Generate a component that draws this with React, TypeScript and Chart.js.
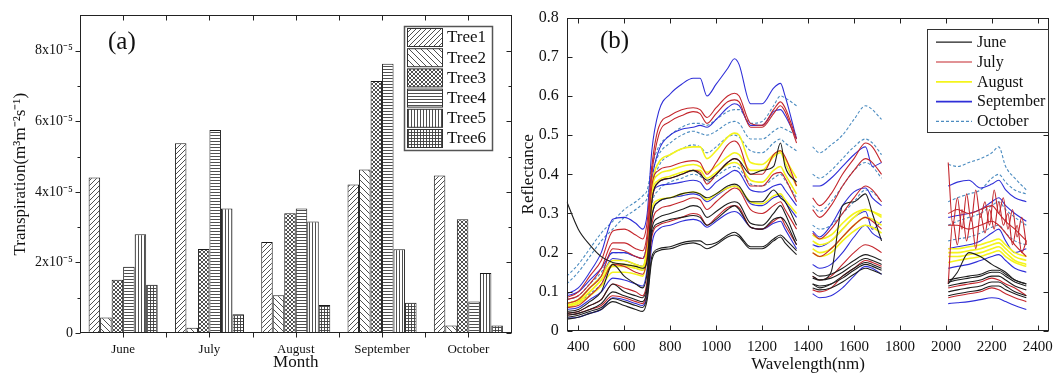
import React, { useEffect, useRef } from "react";
import { Chart, registerables } from "chart.js";
Chart.register(...registerables);

const FONT = '"Liberation Serif", "Times New Roman", serif';

// ---------- Panel (a): transpiration (units of 1e-5 m3 m-2 s-1) ----------
const MONTHS = ["June", "July", "August", "September", "October"];
const TREES = ["Tree1", "Tree2", "Tree3", "Tree4", "Tree5", "Tree6"];
const TREE1 = [4.41, 5.38, 2.58, 4.21, 4.46];
const TREE2 = [0.44, 0.15, 1.07, 4.63, 0.21];
const TREE3 = [1.51, 2.38, 3.39, 7.14, 3.22];
const TREE4 = [1.88, 5.75, 3.53, 7.63, 0.89];
const TREE5 = [2.8, 3.53, 3.16, 2.37, 1.7];
const TREE6 = [1.37, 0.53, 0.79, 0.86, 0.21];
const TREE_VALUES = [TREE1, TREE2, TREE3, TREE4, TREE5, TREE6];
const TREE_PATTERNS = ["diagF", "diagB", "cross", "horiz", "vert", "grid"];
const Y_A_MAX = 9;

// ---------- Panel (b): reflectance spectra ----------
const WL_VNIR = [350, 400, 450, 500, 550, 600, 650, 680, 700, 720, 750, 800, 850, 900, 930, 960, 1000, 1050, 1080, 1100, 1150, 1200, 1250, 1280, 1300, 1350];
const WL_SWIR1 = [1420, 1450, 1500, 1550, 1600, 1650, 1680, 1720];
const WL_SWIR2 = [2010, 2050, 2100, 2150, 2200, 2230, 2260, 2300, 2350];
const WL_SWIR2_FINE = [2010, 2030, 2050, 2070, 2090, 2110, 2130, 2150, 2170, 2190, 2210, 2230, 2250, 2270, 2290, 2310, 2330, 2350];
const X_TICKS_B = [400, 600, 800, 1000, 1200, 1400, 1600, 1800, 2000, 2200, 2400];

const SPECTRA_MONTHS = ["June", "July", "August", "September", "October"];
const MONTH_COLORS = ["#1e1e1e", "#c4262c", "#f4f41c", "#2f2fd8", "#4c8cc0"];

const JUN_1 = {
  vnir: [0.33, 0.26, 0.22, 0.19, 0.175, 0.17, 0.165, 0.16, 0.18, 0.33, 0.38, 0.39, 0.4, 0.41, 0.4, 0.385, 0.4, 0.43, 0.44, 0.435, 0.4, 0.41, 0.42, 0.48, 0.42, 0.38],
  swir1: [0.14, 0.13, 0.15, 0.32, 0.33, 0.35, 0.3, 0.23],
  swir2: [0.12, 0.15, 0.2, 0.19, 0.17, 0.16, 0.15, 0.13, 0.12],
};
const JUN_2 = {
  vnir: [0.05, 0.055, 0.075, 0.1, 0.17, 0.14, 0.12, 0.11, 0.15, 0.29, 0.33, 0.34, 0.35, 0.355, 0.35, 0.34, 0.35, 0.37, 0.375, 0.37, 0.33, 0.33, 0.36, 0.34, 0.33, 0.27],
  swir1: [0.15, 0.14, 0.145, 0.16, 0.18, 0.195, 0.19, 0.18],
  swir2: [0.13, 0.135, 0.14, 0.145, 0.155, 0.155, 0.145, 0.13, 0.12],
};
const JUN_3 = {
  vnir: [0.045, 0.05, 0.065, 0.08, 0.12, 0.1, 0.09, 0.085, 0.12, 0.26, 0.29, 0.3, 0.31, 0.32, 0.315, 0.29, 0.305, 0.325, 0.33, 0.325, 0.275, 0.27, 0.3, 0.32, 0.3, 0.23],
  swir1: [0.135, 0.13, 0.135, 0.15, 0.17, 0.185, 0.18, 0.17],
  swir2: [0.125, 0.13, 0.135, 0.14, 0.15, 0.15, 0.14, 0.125, 0.115],
};
const JUN_4 = {
  vnir: [0.04, 0.045, 0.055, 0.07, 0.1, 0.09, 0.08, 0.075, 0.11, 0.25, 0.275, 0.285, 0.29, 0.295, 0.29, 0.27, 0.285, 0.31, 0.32, 0.31, 0.265, 0.26, 0.285, 0.29, 0.28, 0.22],
  swir1: [0.12, 0.115, 0.12, 0.135, 0.155, 0.17, 0.165, 0.155],
  swir2: [0.1, 0.105, 0.11, 0.115, 0.125, 0.125, 0.115, 0.1, 0.09],
};
const JUN_5 = {
  vnir: [0.035, 0.04, 0.05, 0.06, 0.083, 0.075, 0.065, 0.06, 0.09, 0.19, 0.21, 0.215, 0.225, 0.23, 0.23, 0.22, 0.225, 0.245, 0.252, 0.245, 0.215, 0.215, 0.235, 0.245, 0.235, 0.205],
  swir1: [0.11, 0.105, 0.11, 0.125, 0.145, 0.16, 0.155, 0.145],
  swir2: [0.09, 0.095, 0.1, 0.105, 0.115, 0.115, 0.105, 0.095, 0.085],
};
const JUN_6 = {
  vnir: [0.03, 0.035, 0.045, 0.055, 0.075, 0.065, 0.055, 0.05, 0.08, 0.18, 0.205, 0.21, 0.22, 0.225, 0.22, 0.21, 0.22, 0.24, 0.245, 0.24, 0.21, 0.21, 0.23, 0.24, 0.225, 0.195],
  swir1: [0.12, 0.11, 0.12, 0.14, 0.16, 0.175, 0.17, 0.16],
  swir2: [0.115, 0.12, 0.125, 0.13, 0.14, 0.14, 0.13, 0.115, 0.105],
};

const JUL_1 = {
  vnir: [0.085, 0.1, 0.14, 0.18, 0.255, 0.26, 0.245, 0.235, 0.28, 0.42, 0.52, 0.55, 0.565, 0.57, 0.565, 0.545, 0.57, 0.6, 0.607, 0.6, 0.53, 0.525, 0.565, 0.585, 0.57, 0.49],
  swir1: [0.34, 0.32, 0.35, 0.4, 0.44, 0.48, 0.47, 0.43],
  swir2: [0.43, 0.27, 0.34, 0.26, 0.35, 0.28, 0.36, 0.29, 0.33, 0.27, 0.36, 0.3, 0.34, 0.26, 0.31, 0.24, 0.29, 0.22],
};
const JUL_2 = {
  vnir: [0.08, 0.09, 0.12, 0.16, 0.225, 0.225, 0.21, 0.205, 0.25, 0.4, 0.5, 0.535, 0.55, 0.56, 0.555, 0.53, 0.555, 0.585, 0.59, 0.585, 0.52, 0.52, 0.555, 0.575, 0.56, 0.48],
  swir1: [0.31, 0.29, 0.32, 0.37, 0.41, 0.44, 0.43, 0.4],
  swir2: [0.12, 0.28, 0.22, 0.31, 0.23, 0.29, 0.21, 0.3, 0.25, 0.31, 0.26, 0.33, 0.27, 0.3, 0.22, 0.27, 0.2, 0.23],
};
const JUL_3 = {
  vnir: [0.07, 0.08, 0.11, 0.14, 0.21, 0.205, 0.19, 0.185, 0.23, 0.37, 0.41, 0.42, 0.43, 0.435, 0.43, 0.4, 0.43, 0.475, 0.485, 0.475, 0.4, 0.4, 0.45, 0.46, 0.445, 0.37],
  swir1: [0.25, 0.235, 0.26, 0.3, 0.34, 0.37, 0.36, 0.33],
  swir2: [0.3, 0.31, 0.3, 0.31, 0.32, 0.3, 0.28, 0.26, 0.23],
};
const JUL_4 = {
  vnir: [0.06, 0.065, 0.09, 0.12, 0.17, 0.165, 0.15, 0.145, 0.19, 0.33, 0.38, 0.39, 0.4, 0.41, 0.405, 0.375, 0.4, 0.43, 0.44, 0.435, 0.37, 0.37, 0.4, 0.405, 0.39, 0.33],
  swir1: [0.2, 0.19, 0.21, 0.24, 0.27, 0.29, 0.28, 0.26],
  swir2: [0.27, 0.27, 0.26, 0.27, 0.28, 0.27, 0.25, 0.22, 0.19],
};
const JUL_5 = {
  vnir: [0.045, 0.05, 0.065, 0.08, 0.12, 0.11, 0.1, 0.09, 0.13, 0.27, 0.31, 0.32, 0.33, 0.34, 0.335, 0.31, 0.33, 0.355, 0.365, 0.36, 0.31, 0.3, 0.32, 0.33, 0.31, 0.26],
  swir1: [0.14, 0.13, 0.14, 0.17, 0.2, 0.22, 0.215, 0.2],
  swir2: [0.11, 0.115, 0.12, 0.125, 0.135, 0.13, 0.12, 0.11, 0.09],
};
const JUL_6 = {
  vnir: [0.04, 0.045, 0.055, 0.065, 0.09, 0.085, 0.075, 0.07, 0.11, 0.24, 0.27, 0.28, 0.29, 0.3, 0.295, 0.27, 0.29, 0.315, 0.32, 0.315, 0.265, 0.26, 0.28, 0.29, 0.27, 0.22],
  swir1: [0.105, 0.1, 0.11, 0.14, 0.16, 0.18, 0.175, 0.165],
  swir2: [0.085, 0.09, 0.095, 0.1, 0.11, 0.105, 0.095, 0.085, 0.075],
};

const AUG_1 = {
  vnir: [0.07, 0.08, 0.11, 0.14, 0.18, 0.18, 0.17, 0.165, 0.22, 0.37, 0.43, 0.45, 0.465, 0.47, 0.47, 0.44, 0.46, 0.495, 0.505, 0.5, 0.43, 0.425, 0.45, 0.46, 0.44, 0.39],
  swir1: [0.23, 0.22, 0.23, 0.26, 0.29, 0.31, 0.305, 0.29],
  swir2: [0.2, 0.2, 0.205, 0.21, 0.22, 0.225, 0.21, 0.19, 0.18],
};
const AUG_2 = {
  vnir: [0.065, 0.075, 0.1, 0.13, 0.17, 0.17, 0.165, 0.16, 0.21, 0.35, 0.385, 0.395, 0.405, 0.41, 0.41, 0.39, 0.405, 0.425, 0.43, 0.425, 0.385, 0.38, 0.41, 0.42, 0.4, 0.35],
  swir1: [0.21, 0.2, 0.21, 0.24, 0.27, 0.29, 0.285, 0.27],
  swir2: [0.19, 0.19, 0.195, 0.2, 0.21, 0.215, 0.2, 0.18, 0.17],
};
const AUG_3 = {
  vnir: [0.06, 0.07, 0.09, 0.115, 0.15, 0.15, 0.145, 0.14, 0.19, 0.31, 0.335, 0.34, 0.35, 0.355, 0.35, 0.335, 0.35, 0.365, 0.37, 0.365, 0.33, 0.325, 0.345, 0.35, 0.335, 0.3],
  swir1: [0.2, 0.19, 0.2, 0.23, 0.255, 0.27, 0.265, 0.25],
  swir2: [0.175, 0.18, 0.185, 0.19, 0.2, 0.205, 0.19, 0.175, 0.165],
};
const AUG_4 = {
  vnir: [0.065, 0.075, 0.1, 0.13, 0.165, 0.165, 0.16, 0.155, 0.2, 0.36, 0.4, 0.41, 0.42, 0.425, 0.42, 0.405, 0.42, 0.445, 0.455, 0.45, 0.41, 0.41, 0.445, 0.455, 0.43, 0.37],
  swir1: [0.245, 0.235, 0.245, 0.275, 0.3, 0.31, 0.305, 0.295],
  swir2: [0.21, 0.21, 0.215, 0.22, 0.23, 0.235, 0.22, 0.2, 0.19],
};

const SEP_1 = {
  vnir: [0.095, 0.11, 0.15, 0.2, 0.285, 0.29, 0.275, 0.26, 0.3, 0.46, 0.56, 0.605, 0.63, 0.645, 0.645, 0.6, 0.63, 0.67, 0.695, 0.68, 0.58, 0.58, 0.62, 0.632, 0.6, 0.49],
  swir1: [0.37, 0.37, 0.39, 0.42, 0.45, 0.47, 0.42, 0.43],
  swir2: [0.37, 0.38, 0.385, 0.365, 0.375, 0.385, 0.36, 0.34, 0.33],
};
const SEP_2 = {
  vnir: [0.09, 0.1, 0.13, 0.16, 0.2, 0.2, 0.19, 0.185, 0.23, 0.38, 0.46, 0.5, 0.515, 0.52, 0.525, 0.52, 0.54, 0.57, 0.58, 0.575, 0.525, 0.525, 0.56, 0.565, 0.55, 0.49],
  swir1: [0.255, 0.24, 0.27, 0.32, 0.355, 0.365, 0.34, 0.32],
  swir2: [0.29, 0.295, 0.3, 0.31, 0.33, 0.34, 0.32, 0.3, 0.28],
};
const SEP_3 = {
  vnir: [0.07, 0.08, 0.11, 0.14, 0.185, 0.18, 0.17, 0.165, 0.21, 0.34, 0.37, 0.375, 0.38, 0.385, 0.38, 0.36, 0.38, 0.4, 0.41, 0.405, 0.36, 0.355, 0.37, 0.375, 0.36, 0.32],
  swir1: [0.22, 0.215, 0.23, 0.26, 0.29, 0.305, 0.26, 0.28],
  swir2: [0.21, 0.215, 0.22, 0.23, 0.25, 0.26, 0.23, 0.2, 0.21],
};
const SEP_4 = {
  vnir: [0.055, 0.06, 0.08, 0.1, 0.135, 0.13, 0.12, 0.115, 0.16, 0.29, 0.33, 0.34, 0.345, 0.35, 0.345, 0.33, 0.345, 0.365, 0.37, 0.365, 0.325, 0.32, 0.34, 0.345, 0.33, 0.29],
  swir1: [0.17, 0.16, 0.17, 0.2, 0.24, 0.27, 0.25, 0.235],
  swir2: [0.16, 0.165, 0.17, 0.18, 0.19, 0.195, 0.18, 0.16, 0.15],
};
const SEP_5 = {
  vnir: [0.033, 0.035, 0.045, 0.055, 0.085, 0.08, 0.07, 0.065, 0.1, 0.22, 0.26, 0.27, 0.28, 0.285, 0.28, 0.265, 0.28, 0.3, 0.305, 0.3, 0.265, 0.26, 0.275, 0.28, 0.26, 0.21],
  swir1: [0.095, 0.085, 0.09, 0.11, 0.14, 0.165, 0.16, 0.145],
  swir2: [0.07, 0.072, 0.075, 0.08, 0.085, 0.083, 0.075, 0.065, 0.055],
};

const OCT_1 = {
  vnir: [0.14, 0.17, 0.21, 0.25, 0.28, 0.31, 0.33, 0.345, 0.36, 0.42, 0.47, 0.5, 0.52, 0.53, 0.53, 0.525, 0.54, 0.56, 0.565, 0.565, 0.53, 0.535, 0.575, 0.6, 0.595, 0.575],
  swir1: [0.47, 0.455, 0.475, 0.5, 0.54, 0.575, 0.565, 0.54],
  swir2: [0.425, 0.42, 0.43, 0.44, 0.455, 0.47, 0.42, 0.39, 0.36],
};
const OCT_2 = {
  vnir: [0.12, 0.15, 0.19, 0.23, 0.26, 0.29, 0.31, 0.325, 0.34, 0.4, 0.45, 0.48, 0.5, 0.51, 0.505, 0.5, 0.51, 0.53, 0.535, 0.53, 0.49, 0.49, 0.51, 0.52, 0.515, 0.5],
  swir1: [0.4, 0.39, 0.41, 0.44, 0.47, 0.49, 0.48, 0.45],
  swir2: [0.33, 0.34, 0.35, 0.36, 0.39, 0.4, 0.38, 0.36, 0.35],
};
const OCT_3 = {
  vnir: [0.08, 0.09, 0.12, 0.15, 0.2, 0.2, 0.19, 0.185, 0.23, 0.36, 0.42, 0.45, 0.465, 0.475, 0.47, 0.455, 0.47, 0.495, 0.5, 0.495, 0.46, 0.455, 0.48, 0.49, 0.48, 0.46],
  swir1: [0.32, 0.305, 0.33, 0.37, 0.41, 0.43, 0.42, 0.39],
  swir2: [0.27, 0.28, 0.29, 0.3, 0.32, 0.33, 0.31, 0.29, 0.27],
};
const OCT_4 = {
  vnir: [0.06, 0.07, 0.095, 0.12, 0.17, 0.17, 0.16, 0.155, 0.2, 0.32, 0.36, 0.38, 0.39, 0.4, 0.395, 0.38, 0.395, 0.415, 0.42, 0.415, 0.375, 0.37, 0.39, 0.4, 0.385, 0.34],
  swir1: [0.27, 0.26, 0.27, 0.3, 0.33, 0.36, 0.355, 0.33],
  swir2: [0.23, 0.235, 0.24, 0.25, 0.265, 0.27, 0.25, 0.23, 0.22],
};

const SPECTRA_BY_MONTH = [
  [JUN_1, JUN_2, JUN_3, JUN_4, JUN_5, JUN_6],
  [JUL_1, JUL_2, JUL_3, JUL_4, JUL_5, JUL_6],
  [AUG_1, AUG_2, AUG_3, AUG_4],
  [SEP_1, SEP_2, SEP_3, SEP_4, SEP_5],
  [OCT_1, OCT_2, OCT_3, OCT_4],
];

type Spectrum = { vnir: number[]; swir1: number[]; swir2: number[] };

function toPoints(c: Spectrum) {
  const pts: { x: number; y: number | null }[] = [];
  WL_VNIR.forEach((w, i) => pts.push({ x: w, y: c.vnir[i] }));
  pts.push({ x: 1385, y: null });
  WL_SWIR1.forEach((w, i) => pts.push({ x: w, y: c.swir1[i] }));
  pts.push({ x: 1865, y: null });
  const wl2 = c.swir2.length === WL_SWIR2_FINE.length ? WL_SWIR2_FINE : WL_SWIR2;
  wl2.forEach((w, i) => pts.push({ x: w, y: c.swir2[i] }));
  return pts;
}

function makePattern(kind: string): CanvasPattern {
  const sizes: Record<string, number> = { diagF: 5, diagB: 6, cross: 4, horiz: 3, vert: 3, grid: 3 };
  const s = sizes[kind];
  const c = document.createElement("canvas");
  c.width = s;
  c.height = s;
  const g = c.getContext("2d")!;
  g.fillStyle = "#fff";
  g.fillRect(0, 0, s, s);
  g.strokeStyle = "#3c3c3c";
  g.lineWidth = 0.9;
  g.beginPath();
  if (kind === "diagF" || kind === "cross") {
    g.moveTo(-1, s + 1); g.lineTo(s + 1, -1);
    g.moveTo(-1, 1); g.lineTo(1, -1);
    g.moveTo(s - 1, s + 1); g.lineTo(s + 1, s - 1);
  }
  if (kind === "diagB" || kind === "cross") {
    g.moveTo(-1, -1); g.lineTo(s + 1, s + 1);
    g.moveTo(s - 1, -1); g.lineTo(s + 1, 1);
    g.moveTo(-1, s - 1); g.lineTo(1, s + 1);
  }
  if (kind === "horiz" || kind === "grid") {
    g.moveTo(0, 0.5); g.lineTo(s, 0.5);
  }
  if (kind === "vert" || kind === "grid") {
    g.moveTo(0.5, 0); g.lineTo(0.5, s);
  }
  g.stroke();
  return g.createPattern(c, "repeat")!;
}

const frameA = {
  id: "frameA",
  afterDraw(chart: any) {
    const { ctx, chartArea: a, scales } = chart;
    const xs = scales.x, ys = scales.y;
    ctx.save();
    ctx.strokeStyle = "#222";
    ctx.lineWidth = 1;
    const L = Math.round(a.left) + 0.5, R = Math.round(a.right) - 0.5;
    const T = Math.round(a.top) + 0.5, B = Math.round(a.bottom) - 0.5;
    ctx.strokeRect(L, T, R - L, B - T);
    ctx.beginPath();
    for (let v = 0; v < Y_A_MAX; v++) {
      const py = Math.round(ys.getPixelForValue(v)) + 0.5;
      const len = v % 2 === 0 ? 5 : 3;
      ctx.moveTo(L, py); ctx.lineTo(L - len, py);
      ctx.moveTo(R, py); ctx.lineTo(R - len, py);
    }
    const half = (xs.getPixelForValue(1) - xs.getPixelForValue(0)) / 2;
    for (let i = 0; i < MONTHS.length; i++) {
      const cx = xs.getPixelForValue(i);
      const list = i < MONTHS.length - 1 ? [cx, cx + half] : [cx];
      for (const p of list) {
        const px = Math.round(p) + 0.5;
        ctx.moveTo(px, B); ctx.lineTo(px, B + 5);
        ctx.moveTo(px, T); ctx.lineTo(px, T + 5);
      }
    }
    ctx.stroke();

    // panel label
    ctx.fillStyle = "#111";
    ctx.font = `25px ${FONT}`;
    ctx.textBaseline = "alphabetic";
    ctx.textAlign = "left";
    ctx.fillText("(a)", 108, 49);

    // legend
    const bx = 404.5, by = 26.5, bw = 88, bh = 124;
    ctx.fillStyle = "#fff";
    ctx.fillRect(bx, by, bw, bh);
    ctx.strokeStyle = "#555";
    ctx.lineWidth = 1.5;
    ctx.strokeRect(bx, by, bw, bh);
    ctx.lineWidth = 1;
    ctx.strokeStyle = "#333";
    chart.data.datasets.forEach((ds: any, i: number) => {
      const ry = 28.5 + i * 20.2;
      ctx.fillStyle = ds.backgroundColor;
      ctx.fillRect(407.5, ry, 35, 18);
      ctx.strokeRect(407.5, ry, 35, 18);
      ctx.fillStyle = "#111";
      ctx.font = `17px ${FONT}`;
      ctx.textBaseline = "middle";
      ctx.fillText(ds.label, 447, ry + 9.5);
    });
    ctx.restore();
  },
};

const frameB = {
  id: "frameB",
  afterDraw(chart: any) {
    const { ctx, chartArea: a, scales } = chart;
    const xs = scales.x, ys = scales.y;
    ctx.save();
    ctx.strokeStyle = "#222";
    ctx.lineWidth = 1;
    const L = Math.round(a.left) + 0.5, R = Math.round(a.right) - 0.5;
    const T = Math.round(a.top) + 0.5, B = Math.round(a.bottom) - 0.5;
    ctx.strokeRect(L, T, R - L, B - T);
    ctx.beginPath();
    ys.ticks.forEach((t: any) => {
      const py = Math.round(ys.getPixelForValue(t.value)) + 0.5;
      ctx.moveTo(L, py); ctx.lineTo(L + 5, py);
      ctx.moveTo(R, py); ctx.lineTo(R - 5, py);
    });
    xs.ticks.forEach((t: any) => {
      const px = Math.round(xs.getPixelForValue(t.value)) + 0.5;
      ctx.moveTo(px, B); ctx.lineTo(px, B - 5);
      ctx.moveTo(px, T); ctx.lineTo(px, T + 5);
    });
    ctx.stroke();

    ctx.fillStyle = "#111";
    ctx.font = `25px ${FONT}`;
    ctx.textAlign = "left";
    ctx.textBaseline = "alphabetic";
    ctx.fillText("(b)", 85, 48);

    // legend
    const bx = 412.5, by = 29.5, bw = 121, bh = 103;
    ctx.fillStyle = "#fff";
    ctx.fillRect(bx, by, bw, bh);
    ctx.strokeStyle = "#333";
    ctx.lineWidth = 1;
    ctx.strokeRect(bx, by, bw, bh);
    SPECTRA_MONTHS.forEach((m, i) => {
      const cy = 41.7 + i * 19.8;
      ctx.beginPath();
      ctx.strokeStyle = MONTH_COLORS[i];
      ctx.lineWidth = i === 2 || i === 3 ? 1.8 : 1.2;
      ctx.setLineDash(i === 4 ? [3, 2] : []);
      ctx.moveTo(421, cy + 0.5);
      ctx.lineTo(457, cy + 0.5);
      ctx.stroke();
      ctx.setLineDash([]);
      ctx.fillStyle = "#111";
      ctx.font = `16px ${FONT}`;
      ctx.textBaseline = "middle";
      ctx.fillText(m, 462, cy + 1);
    });
    ctx.restore();
  },
};

function configA(): any {
  const datasets = TREES.map((t, i) => ({
    label: t,
    data: TREE_VALUES[i],
    backgroundColor: makePattern(TREE_PATTERNS[i]),
    borderColor: "#1a1a1a",
    borderWidth: 1,
    borderSkipped: false,
    categoryPercentage: 0.8,
    barPercentage: 1,
  }));
  return {
    type: "bar",
    data: { labels: MONTHS, datasets },
    plugins: [frameA],
    options: {
      responsive: false,
      animation: false,
      devicePixelRatio: 1,
      layout: { padding: { top: 13, right: 3.5, left: 0, bottom: 0 } },
      plugins: { legend: { display: false }, tooltip: { enabled: false } },
      scales: {
        x: {
          type: "category",
          offset: true,
          grid: { display: false, drawTicks: false },
          border: { display: false },
          ticks: { font: { family: FONT, size: 13 }, color: "#111", padding: 9, maxRotation: 0, autoSkip: false },
          title: { display: true, text: "Month", font: { family: FONT, size: 17, lineHeight: 1.2 }, color: "#111", padding: 0 },
          afterFit: (s: any) => { s.height = 40; },
        },
        y: {
          min: 0,
          max: Y_A_MAX,
          grid: { display: false, drawTicks: false },
          border: { display: false },
          ticks: {
            stepSize: 1,
            autoSkip: false,
            font: { family: FONT, size: 14 },
            color: "#111",
            padding: 7,
            callback: (v: any) => {
              const n = Math.round(Number(v));
              if (n === 0) return "0";
              return n % 2 === 0 && n < Y_A_MAX ? `${n}x10⁻⁵` : "";
            },
          },
          title: { display: true, text: "Transpiration(m³m⁻²s⁻¹)", font: { family: FONT, size: 17, lineHeight: 1.2 }, color: "#111", padding: { top: 10, bottom: 0 } },
          afterFit: (s: any) => { s.width = 80; },
        },
      },
    },
  };
}

function configB(): any {
  const datasets: any[] = [];
  SPECTRA_BY_MONTH.forEach((curves, m) => {
    curves.forEach((c, k) => {
      datasets.push({
        label: `${SPECTRA_MONTHS[m]} ${k + 1}`,
        data: toPoints(c),
        borderColor: MONTH_COLORS[m],
        borderWidth: m === 2 ? 1.6 : 1.1,
        borderDash: m === 4 ? [3, 2] : [],
        pointRadius: 0,
        fill: false,
        spanGaps: false,
        cubicInterpolationMode: "monotone",
      });
    });
  });
  return {
    type: "line",
    data: { datasets },
    plugins: [frameB],
    options: {
      responsive: false,
      animation: false,
      devicePixelRatio: 1,
      layout: { padding: { top: 13.3, right: 8, left: 0, bottom: 0 } },
      plugins: { legend: { display: false }, tooltip: { enabled: false } },
      scales: {
        x: {
          type: "linear",
          min: 350,
          max: 2450,
          grid: { display: false, drawTicks: false },
          border: { display: false },
          afterBuildTicks: (s: any) => { s.ticks = X_TICKS_B.map((v) => ({ value: v })); },
          ticks: { font: { family: FONT, size: 15 }, color: "#111", padding: 7, maxRotation: 0, autoSkip: false, callback: (v: any) => String(v) },
          title: { display: true, text: "Wavelength(nm)", font: { family: FONT, size: 17, lineHeight: 1 }, color: "#111", padding: 0 },
          afterFit: (s: any) => { s.height = 42; },
        },
        y: {
          min: 0,
          max: 0.8,
          grid: { display: false, drawTicks: false },
          border: { display: false },
          ticks: {
            stepSize: 0.1,
            font: { family: FONT, size: 16 },
            color: "#111",
            padding: 8,
            callback: (v: any) => (Number(v) === 0 ? "0" : Number(v).toFixed(1)),
          },
          title: { display: true, text: "Reflectance", font: { family: FONT, size: 17, lineHeight: 1 }, color: "#111", padding: { top: 5, bottom: 0 } },
          afterFit: (s: any) => { s.width = 51.8; },
        },
      },
    },
  };
}

export default function App() {
  const refA = useRef<HTMLCanvasElement>(null);
  const refB = useRef<HTMLCanvasElement>(null);
  useEffect(() => {
    const a = new Chart(refA.current!, configA());
    const b = new Chart(refB.current!, configB());
    return () => {
      a.destroy();
      b.destroy();
    };
  }, []);
  return (
    <div style={{ position: "absolute", left: 0, top: 0, width: 1060, height: 373, background: "#fff", overflow: "hidden" }}>
      <canvas ref={refA} width={515} height={373} style={{ position: "absolute", left: 0, top: 0, width: 515, height: 373 }} />
      <canvas ref={refB} width={545} height={373} style={{ position: "absolute", left: 515, top: 0, width: 545, height: 373 }} />
    </div>
  );
}
